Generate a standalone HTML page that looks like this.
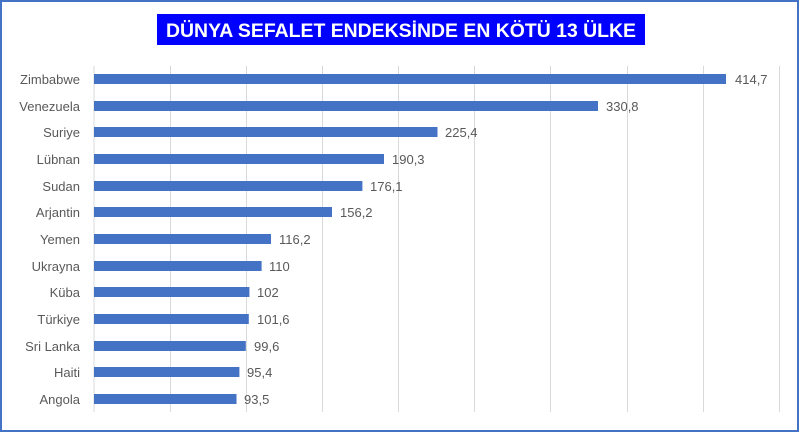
<!DOCTYPE html>
<html><head><meta charset="utf-8"><style>
body{margin:0;background:#fff;}
.wrap{position:relative;width:800px;height:433px;overflow:hidden;font-family:"Liberation Sans",sans-serif;}
</style></head><body><div class="wrap">
<svg width="800" height="433" xmlns="http://www.w3.org/2000/svg" font-family="Liberation Sans, sans-serif">
<rect x="1" y="1" width="797" height="430" fill="#fff" stroke="#4472C4" stroke-width="2"/>
<rect x="157" y="14" width="488" height="31" fill="#0000FF"/>
<text x="401" y="37" text-anchor="middle" fill="#fff" font-size="19" font-weight="bold" textLength="470" lengthAdjust="spacingAndGlyphs">DÜNYA SEFALET ENDEKSİNDE EN KÖTÜ 13 ÜLKE</text>
<g stroke="#D9D9D9" stroke-width="1">
<line x1="94" y1="66" x2="94" y2="412"/><line x1="170.5" y1="66" x2="170.5" y2="412"/><line x1="246.5" y1="66" x2="246.5" y2="412"/><line x1="322.5" y1="66" x2="322.5" y2="412"/><line x1="398.5" y1="66" x2="398.5" y2="412"/><line x1="474.5" y1="66" x2="474.5" y2="412"/><line x1="550.5" y1="66" x2="550.5" y2="412"/><line x1="627.5" y1="66" x2="627.5" y2="412"/><line x1="703.5" y1="66" x2="703.5" y2="412"/><line x1="779.5" y1="66" x2="779.5" y2="412"/>
</g>
<g font-size="13" fill="#595959">
<g fill="#4472C4">
<rect x="94" y="74" width="632" height="10"/>
<rect x="94" y="101" width="504" height="10"/>
<rect x="94" y="127" width="343.5" height="10"/>
<rect x="94" y="154" width="290" height="10"/>
<rect x="94" y="181" width="268.4" height="10"/>
<rect x="94" y="207" width="238" height="10"/>
<rect x="94" y="234" width="177" height="10"/>
<rect x="94" y="261" width="167.6" height="10"/>
<rect x="94" y="287" width="155.4" height="10"/>
<rect x="94" y="314" width="154.8" height="10"/>
<rect x="94" y="341" width="151.8" height="10"/>
<rect x="94" y="367" width="145.4" height="10"/>
<rect x="94" y="394" width="142.5" height="10"/>
</g>
<g text-anchor="end">
<text x="80" y="84">Zimbabwe</text><text x="80" y="111">Venezuela</text><text x="80" y="137">Suriye</text><text x="80" y="164">Lübnan</text><text x="80" y="191">Sudan</text><text x="80" y="217">Arjantin</text><text x="80" y="244">Yemen</text><text x="80" y="271">Ukrayna</text><text x="80" y="297">Küba</text><text x="80" y="324">Türkiye</text><text x="80" y="351">Sri Lanka</text><text x="80" y="377">Haiti</text><text x="80" y="404">Angola</text>
</g>
<text x="735" y="84">414,7</text><text x="606" y="111">330,8</text><text x="445" y="137">225,4</text><text x="392" y="164">190,3</text><text x="370" y="191">176,1</text><text x="340" y="217">156,2</text><text x="279" y="244">116,2</text><text x="269" y="271">110</text><text x="257" y="297">102</text><text x="257" y="324">101,6</text><text x="254" y="351">99,6</text><text x="247" y="377">95,4</text><text x="244" y="404">93,5</text>
</g>
</svg>
</div></body></html>
